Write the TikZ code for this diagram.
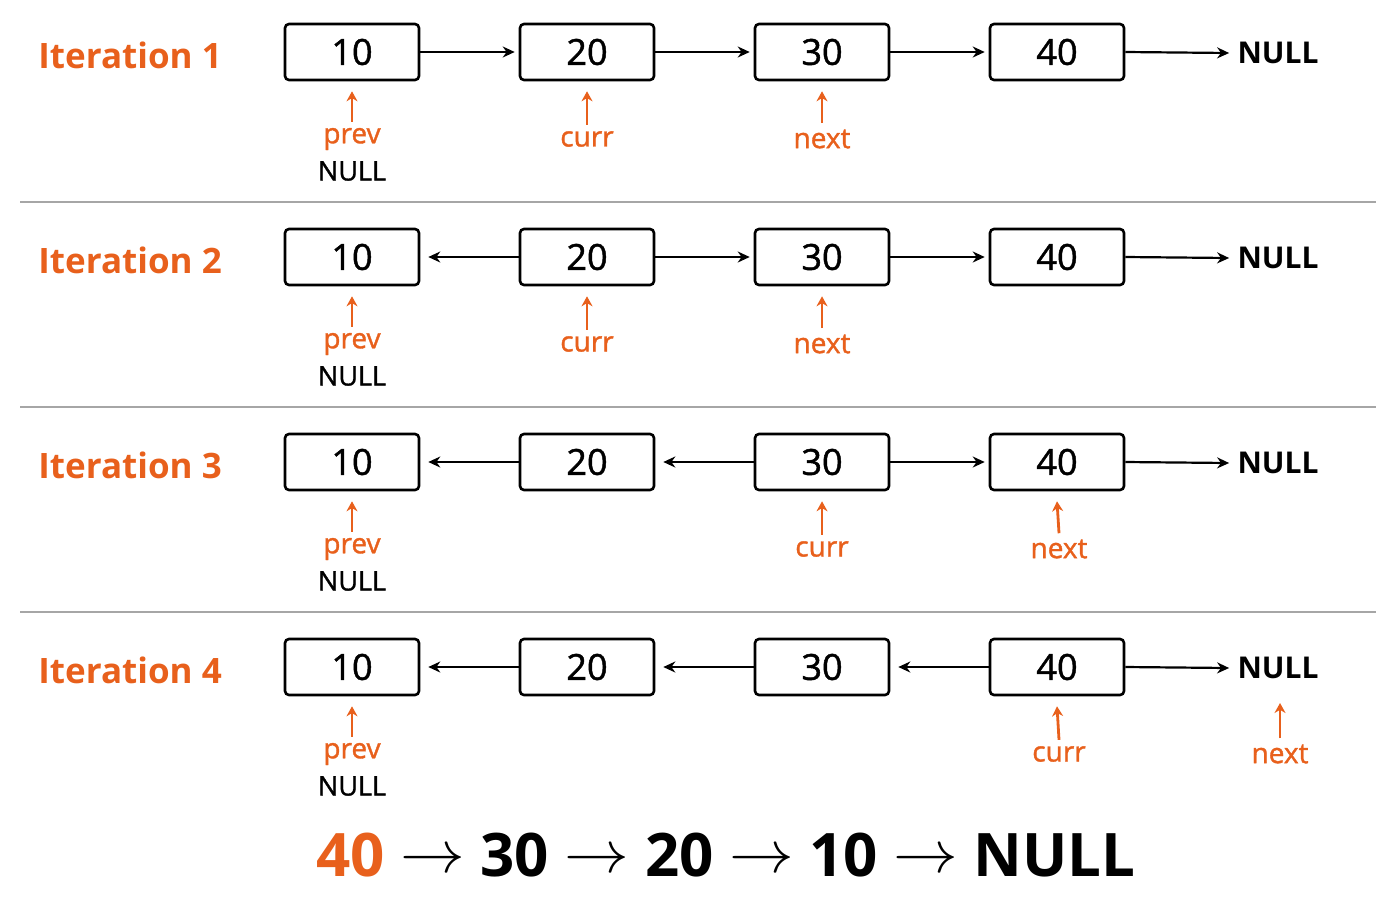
\documentclass[tikz,border=0pt]{standalone}
\usepackage{fontspec}
\setmainfont{Open Sans}
\newfontfamily\med{Open Sans}[FakeBold=1.3]
\usetikzlibrary{arrows.meta}
\definecolor{org}{HTML}{E8601C}
\begin{document}
\begin{tikzpicture}[x=0.5pt,y=-0.5pt,
  box/.style={draw,line width=1.3pt,rounded corners=2pt,minimum width=67pt,minimum height=28pt,inner sep=0pt,font=\fontsize{18}{18}\med},
  lnk/.style={line width=1.1pt,-{Stealth[length=6pt,width=5.5pt]}},
  ptr/.style={line width=1.4pt,draw=org,-{Stealth[length=5pt,width=5.5pt]}},
  plab/.style={text=org,font=\fontsize{14}{14}\med,inner sep=0pt},
  nlab/.style={font=\fontsize{13.5}{13.5}\med,inner sep=0pt},
  itlab/.style={text=org,anchor=west,font=\fontsize{17.5}{17.5}\selectfont\bfseries,inner sep=0pt},
  sep/.style={draw=gray!70,line width=0.6pt}]
\useasboundingbox (0,0) rectangle (1400,900);
\foreach \r in {1,...,4}{
  \pgfmathsetmacro{\y}{52+205*(\r-1)}
  \node[itlab] (it\r) at (38,\y+3) {Iteration \r};
  \foreach \j/\v [count=\k] in {352/10,587/20,822/30,1057/40}
    \node[box] (b\r\k) at (\j,\y) {\v};
  \node[font=\fontsize{15}{15}\selectfont\bfseries,inner sep=0pt] (n\r) at (1278,\y+1) {NULL};
  \foreach \k [evaluate=\k as \kk using int(\k+1)] in {1,2,3}{
    \ifnum\k<\r
      \draw[lnk] (b\r\kk.west) -- ([xshift=4pt]b\r\k.east);
    \else
      \draw[lnk] (b\r\k.east) -- ([xshift=-2pt]b\r\kk.west);
    \fi}
  \draw[lnk] (b\r4.east) -- ([xshift=-4pt]n\r.west);
  \ifnum\r<4 \draw[sep] (20,\y+150) coordinate (sl\r) -- (1376,\y+150) coordinate (sr\r); \fi
  \node[plab] (p\r) at (352,\y+87) {prev};
  \node[nlab] (pn\r) at (352,\y+119) {NULL};
  \draw[ptr] ([yshift=3pt]p\r.north) -- ([yshift=-5pt]b\r1.south);
}
\node[plab] (c1) at (587,139) {curr};
\node[plab] (x1) at (822,139) {next};
\node[plab] (c2) at (587,344) {curr};
\node[plab] (x2) at (822,344) {next};
\node[plab] (c3) at (822,549) {curr};
\node[plab] (x3) at (1059,549) {next};
\node[plab] (c4) at (1059,754) {curr};
\node[plab] (x4) at (1280,754) {next};
\foreach \a/\b in {c1/b12,x1/b13,c2/b22,x2/b23,c3/b33,x3/b34,c4/b44}
  \draw[ptr] ([yshift=3pt]\a.north) -- ([yshift=-5pt]\b.south);
\draw[ptr] ([yshift=3pt]x4.north) -- (1280,703) coordinate (x4t);
\node[font=\fontsize{30}{30}\selectfont\bfseries,inner sep=0pt] (res) at (726,855)
  {\textcolor{org}{40} \raisebox{2pt}{\scalebox{1.3}[1.2]{$\rightarrow$}} 30 \raisebox{2pt}{\scalebox{1.3}[1.2]{$\rightarrow$}} 20 \raisebox{2pt}{\scalebox{1.3}[1.2]{$\rightarrow$}} 10 \raisebox{2pt}{\scalebox{1.3}[1.2]{$\rightarrow$}} NULL};
\end{tikzpicture}
\end{document}
